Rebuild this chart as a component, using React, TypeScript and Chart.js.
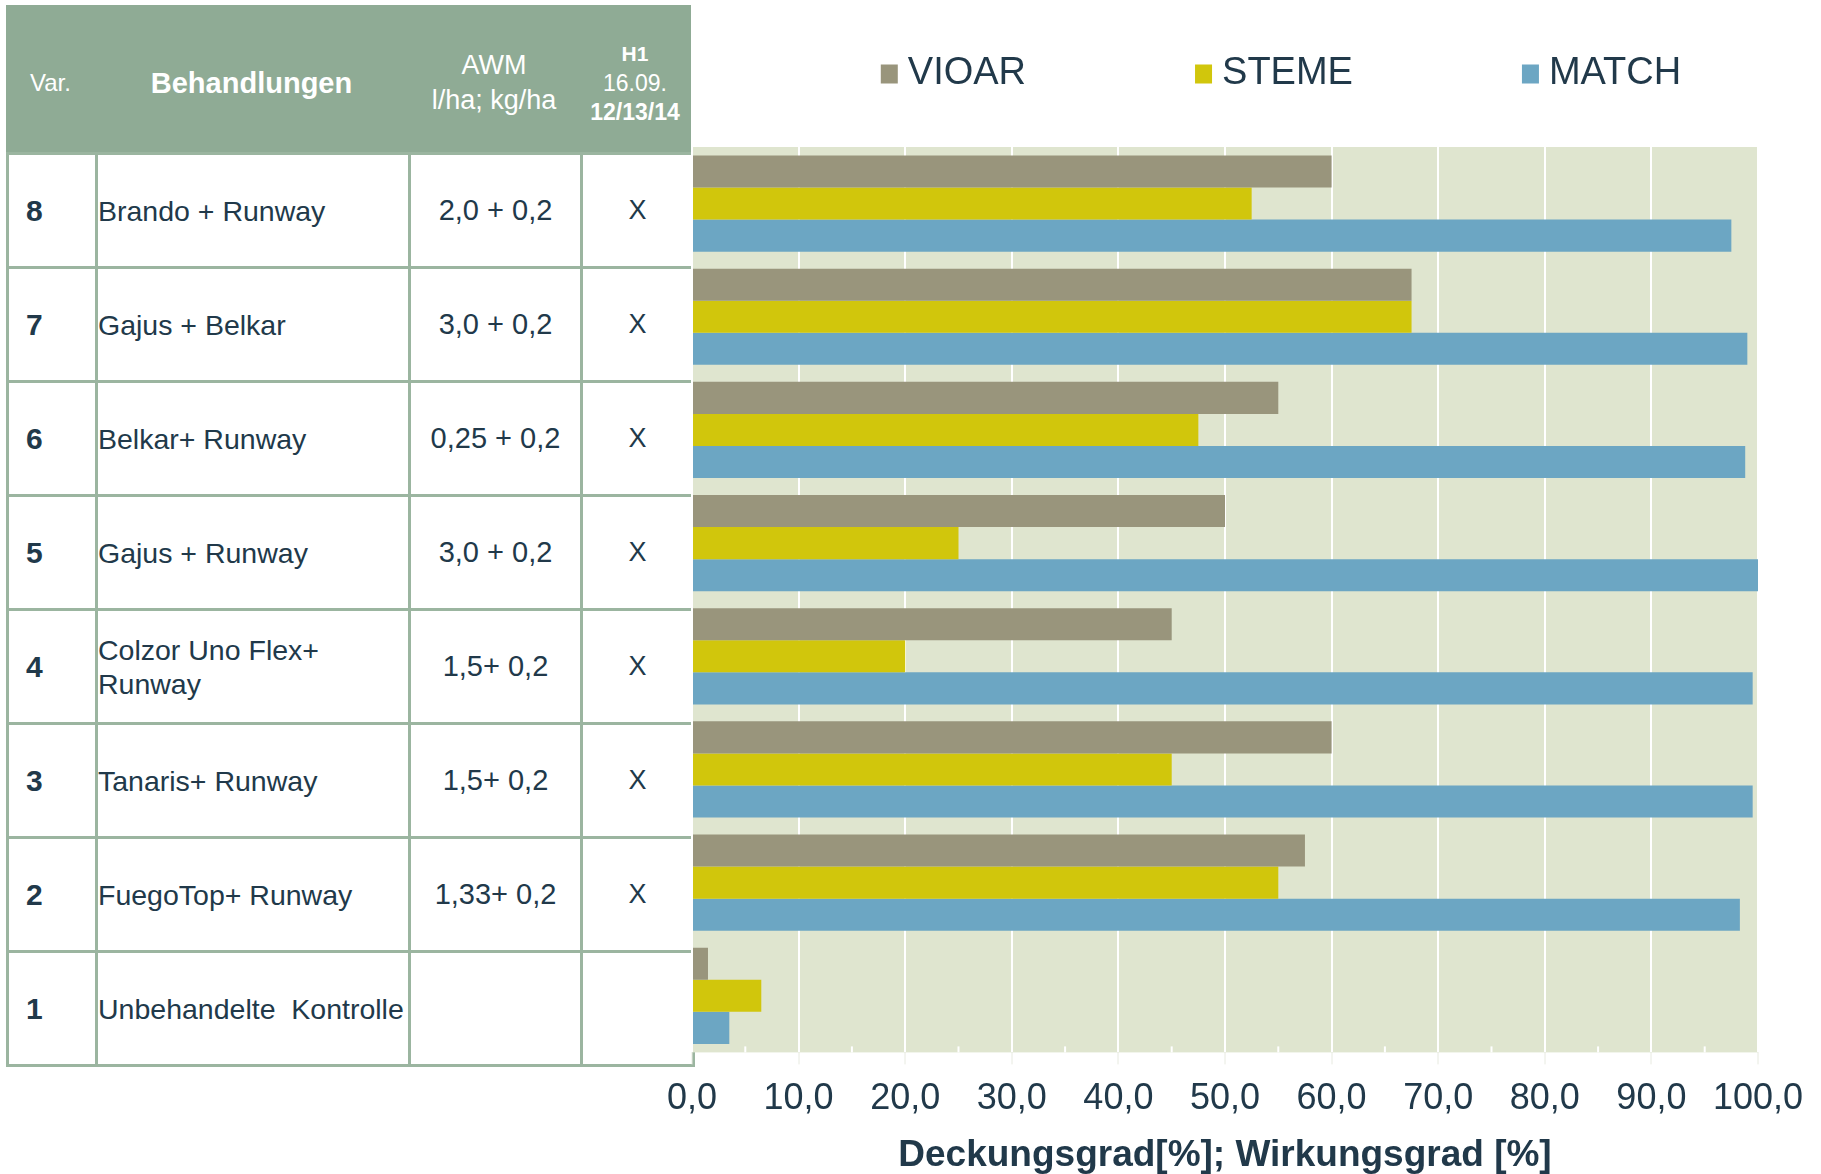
import React, { useEffect, useRef } from 'react';
import { Chart, registerables } from 'chart.js';

Chart.register(...registerables);

// ---------- data ----------
const variants = ['8', '7', '6', '5', '4', '3', '2', '1'];
const treatments = [
  'Brando + Runway',
  'Gajus + Belkar',
  'Belkar+ Runway',
  'Gajus + Runway',
  'Colzor Uno Flex+\nRunway',
  'Tanaris+ Runway',
  'FuegoTop+ Runway',
  'Unbehandelte  Kontrolle',
];
const rates = ['2,0 + 0,2', '3,0 + 0,2', '0,25 + 0,2', '3,0 + 0,2', '1,5+ 0,2', '1,5+ 0,2', '1,33+ 0,2', ''];
const h1Marks = ['X', 'X', 'X', 'X', 'X', 'X', 'X', ''];

const seriesNames = ['VIOAR', 'STEME', 'MATCH'];
const vioar = [60, 67.5, 55, 50, 45, 60, 57.5, 1.5];
const steme = [52.5, 67.5, 47.5, 25, 20, 45, 55, 6.5];
const match = [97.5, 99, 98.8, 100, 99.5, 99.5, 98.3, 3.5];

const xMin = 0;
const xMax = 100;
const xStep = 10;
const xTitle = 'Deckungsgrad[%]; Wirkungsgrad [%]';

const headerVar = 'Var.';
const headerTreat = 'Behandlungen';
const headerAwm = ['AWM', 'l/ha; kg/ha'];
const headerH1 = ['H1', '16.09.', '12/13/14'];

// ---------- style ----------
const FONT = '"Liberation Sans", Arial, Helvetica, sans-serif';
const TEXT = '#21394a';
const COLORS = ['#99957c', '#d1c60c', '#6ca6c3'];
const PLOT_BG = '#dfe5cf';
const HEADER_BG = '#8fab95';
const BORDER = '#9bb5a0';

const plotBgPlugin = {
  id: 'plotBg',
  beforeDraw(chart: any) {
    const { ctx, chartArea: a } = chart;
    ctx.save();
    ctx.fillStyle = PLOT_BG;
    ctx.fillRect(a.left, a.top, a.right - a.left, a.bottom - a.top);
    ctx.restore();
  },
  beforeDatasetsDraw(chart: any) {
    const { ctx, chartArea: a } = chart;
    const xs = chart.scales.x;
    ctx.save();
    ctx.fillStyle = '#ffffff';
    for (let v = xMin + xStep / 2; v < xMax; v += xStep) {
      const px = xs.getPixelForValue(v);
      ctx.fillRect(px - 1, a.bottom - 6, 2, 6);
    }
    ctx.restore();
  },
};

const topLegendPlugin = {
  id: 'topLegend',
  afterDraw(chart: any) {
    const { ctx, chartArea: a } = chart;
    const ds = chart.data.datasets;
    ctx.save();
    ctx.font = `38px ${FONT}`;
    ctx.textBaseline = 'middle';
    ctx.textAlign = 'left';
    const boxW = 17;
    const boxH = 19;
    const gapText = 10;
    const gapItem = 169;
    const widths = ds.map((d: any) => boxW + gapText + ctx.measureText(d.label).width);
    const total = widths.reduce((s: number, w: number) => s + w, 0) + gapItem * (ds.length - 1);
    const cx = (a.left + a.right) / 2 + 56;
    let x = cx - total / 2;
    const y = 74;
    ds.forEach((d: any, i: number) => {
      ctx.fillStyle = d.backgroundColor;
      ctx.fillRect(x, y - boxH / 2, boxW, boxH);
      ctx.fillStyle = TEXT;
      ctx.fillText(d.label, x + boxW + gapText, y);
      x += widths[i] + gapItem;
    });
    ctx.restore();
  },
};

function HText({ cx, cy, size, bold, children }: any) {
  const lh = Math.round(size * 1.2);
  return (
    <div
      style={{
        position: 'absolute',
        left: cx - 150,
        width: 300,
        top: cy - lh / 2,
        height: lh,
        lineHeight: `${lh}px`,
        fontSize: size,
        fontWeight: bold ? 'bold' : 'normal',
        color: '#ffffff',
        textAlign: 'center',
        whiteSpace: 'nowrap',
      }}
    >
      {children}
    </div>
  );
}

export default function App() {
  const ref = useRef<HTMLCanvasElement>(null);

  useEffect(() => {
    if (!ref.current) return;
    const seriesData = [vioar, steme, match];
    const chart = new Chart(ref.current, {
      type: 'bar',
      data: {
        labels: variants,
        datasets: seriesNames.map((name, i) => ({
          label: name,
          data: seriesData[i],
          backgroundColor: COLORS[i],
          borderWidth: 0,
          categoryPercentage: 0.85,
          barPercentage: 1.0,
        })),
      },
      options: {
        indexAxis: 'y',
        animation: false,
        responsive: false,
        layout: { padding: { top: 147, left: 42, right: 63, bottom: 0 } },
        scales: {
          x: {
            min: xMin,
            max: xMax,
            ticks: {
              stepSize: xStep,
              autoSkip: false,
              maxRotation: 0,
              minRotation: 0,
              padding: 13,
              color: TEXT,
              font: { family: FONT, size: 36 },
              callback: (v: any) => Number(v).toFixed(1).replace('.', ','),
            },
            grid: {
              color: '#ffffff',
              lineWidth: 2,
              tickColor: '#e7eae0',
              tickLength: 12,
              tickWidth: 1,
            },
            border: { display: false },
            title: {
              display: true,
              text: xTitle,
              color: TEXT,
              font: { family: FONT, size: 37, weight: 'bold' },
              padding: { top: 0, bottom: 2 },
            },
          },
          y: { display: false },
        },
        plugins: {
          legend: { display: false },
          tooltip: { enabled: false },
        },
      } as any,
      plugins: [plotBgPlugin, topLegendPlugin],
    });
    return () => chart.destroy();
  }, []);

  const cellBase: any = {
    border: `3px solid ${BORDER}`,
    height: 111,
    padding: 0,
    color: TEXT,
    verticalAlign: 'middle',
    fontSize: 29,
  };

  return (
    <div
      style={{
        position: 'absolute',
        left: 0,
        top: 0,
        width: 1821,
        height: 1174,
        overflow: 'hidden',
        background: '#ffffff',
        fontFamily: FONT,
      }}
    >
      {/* header */}
      <div style={{ position: 'absolute', left: 6, top: 5, width: 685, height: 149, background: HEADER_BG }}>
        <HText cx={44.5} cy={77.5} size={24}>{headerVar}</HText>
        <HText cx={245.5} cy={78.5} size={29} bold>{headerTreat}</HText>
        <HText cx={488} cy={60} size={27}>{headerAwm[0]}</HText>
        <HText cx={488} cy={95} size={27}>{headerAwm[1]}</HText>
        <HText cx={629} cy={48} size={21} bold>{headerH1[0]}</HText>
        <HText cx={629} cy={77.5} size={23}>{headerH1[1]}</HText>
        <HText cx={629} cy={106.5} size={23} bold>{headerH1[2]}</HText>
      </div>

      {/* table body */}
      <table
        style={{
          position: 'absolute',
          left: 6,
          top: 152,
          width: 686,
          borderCollapse: 'collapse',
          tableLayout: 'fixed',
          fontFamily: FONT,
        }}
      >
        <colgroup>
          <col style={{ width: 89 }} />
          <col style={{ width: 313 }} />
          <col style={{ width: 172 }} />
          <col style={{ width: 112 }} />
        </colgroup>
        <tbody>
          {variants.map((v, i) => (
            <tr key={v}>
              <td style={{ ...cellBase, fontWeight: 'bold', fontSize: 30, paddingLeft: 17 }}>{v}</td>
              <td
                style={{
                  ...cellBase,
                  paddingLeft: 0,
                  fontSize: 28.5,
                  whiteSpace: 'pre',
                  overflow: 'visible',
                  lineHeight: '34px',
                }}
              >
                {treatments[i]}
              </td>
              <td style={{ ...cellBase, textAlign: 'center' }}>{rates[i]}</td>
              <td style={{ ...cellBase, textAlign: 'center', fontSize: 27 }}>{h1Marks[i]}</td>
            </tr>
          ))}
        </tbody>
      </table>

      <canvas
        ref={ref}
        width={1171}
        height={1180}
        style={{ position: 'absolute', left: 650, top: 0, width: 1171, height: 1180 }}
      />
    </div>
  );
}
